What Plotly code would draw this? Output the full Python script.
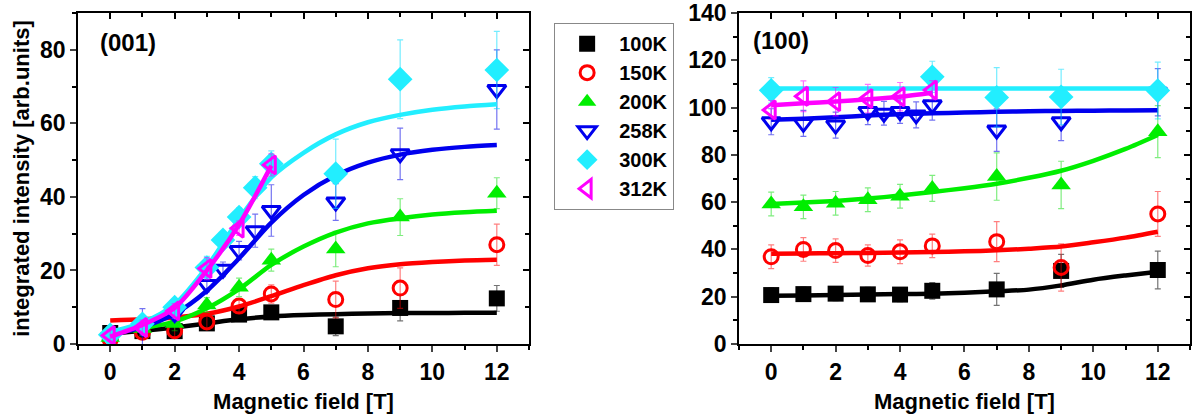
import plotly.graph_objects as go

# ---------------- data: panel (001) ----------------
labels = ["100K", "150K", "200K", "258K", "300K", "312K"]
colors = ["#000000", "#ff0000", "#00ee00", "#0000ee", "#22eeff", "#ff00ff"]
err_colors = ["rgba(0,0,0,0.55)", "rgba(255,0,0,0.5)", "rgba(0,220,0,0.5)",
              "rgba(0,0,230,0.55)", "rgba(0,220,255,0.55)", "rgba(255,0,255,0.55)"]
symbols = ["square", "circle-open", "triangle-up", "triangle-down-open", "diamond", "triangle-left-open"]
marker_sizes = [16, 14, 17, 16, 19, 16]

x_9 = [0, 1, 2, 3, 4, 5, 7, 9, 12]
x_11 = [0, 1, 2, 3, 3.5, 4, 4.5, 5, 7, 9, 12]
x_6 = [0, 1, 2, 3, 4, 5]
x_300_100 = [0, 5, 7, 9, 12]

a_100 = [3.0, 3.5, 3.5, 5.6, 8.0, 8.6, 4.8, 9.8, 12.4]
a_100_err = [1.5, 1.5, 1.5, 1.5, 1.5, 1.5, 2.5, 3.5, 3.5]
a_150 = [1.2, 3.2, 3.6, 6.0, 10.3, 13.6, 12.1, 15.2, 27.0]
a_150_err = [1.5, 2, 2, 2, 2, 2.5, 5, 5.5, 5.6]
a_200 = [1.8, 4.2, 5.6, 10.6, 15.4, 22.8, 25.8, 34.5, 41.0]
a_200_err = [1.5, 2, 2, 2, 2.5, 3, 4.8, 5, 4.2]
a_258 = [1.8, 4.6, 8.3, 16.2, 20.3, 25.4, 30.8, 36.3, 38.6, 51.7, 69.2]
a_258_err = [1.5, 5, 2, 2, 2, 2.5, 4.5, 7, 5, 7, 10.8]
a_300 = [2.5, 5.5, 10.0, 20.8, 28.3, 34.5, 42.5, 49.0, 46.3, 72.0, 74.5]
a_300_err = [1.5, 2, 2, 3, 2, 2.5, 3, 3.5, 9.4, 10.7, 10.5]
a_312 = [2.3, 4.5, 9.0, 20.5, 31.5, 48.7]
a_312_err = [1.5, 2, 2, 3, 2, 3]

# fitted curves (001)
fit_x = [0, 1, 2, 3, 4, 5, 6, 7, 8, 9, 10, 11, 12]
fit_x_312 = [0, 1, 2, 3, 4, 5]
af_100 = [2.8, 3.6, 4.5, 5.6, 6.7, 7.5, 7.9, 8.1, 8.3, 8.4, 8.4, 8.5, 8.5]
af_150 = [6.4, 6.7, 7.2, 8.2, 10.2, 13.0, 16.0, 18.7, 20.6, 21.7, 22.3, 22.7, 22.9]
af_200 = [3.0, 4.3, 6.1, 9.7, 14.9, 21.5, 26.5, 30.3, 32.8, 34.2, 35.2, 35.8, 36.2]
af_258 = [2.5, 4.6, 8.2, 14.5, 23.3, 33.0, 40.5, 45.8, 49.3, 51.5, 52.8, 53.6, 54.1]
af_300 = [3.3, 5.8, 10.8, 21.0, 34.0, 45.3, 52.0, 57.0, 60.3, 62.3, 63.7, 64.6, 65.2]
af_312 = [2.0, 5.2, 9.8, 20.0, 32.5, 48.5]

# ---------------- data: panel (100) ----------------
b_100 = [20.7, 21.1, 21.3, 21.0, 20.9, 22.5, 23.1, 30.9, 31.3]
b_100_err = [3, 3, 3, 3, 3, 3.5, 6.8, 7, 8]
b_150 = [36.9, 40.0, 39.5, 37.4, 39.0, 41.5, 43.3, 32.4, 55.0]
b_150_err = [5, 5, 5, 4.5, 5, 5, 8.5, 10, 9.5]
b_200 = [59.2, 58.0, 59.5, 61.0, 62.5, 65.8, 70.8, 67.3, 89.8]
b_200_err = [5, 5, 5, 5, 5, 5.5, 10, 10, 11]
b_258 = [94.0, 93.3, 92.6, 98.3, 97.6, 98.3, 96.9, 101.2, 90.5, 94.0, 106.5]
b_258_err = [5.5, 5.5, 5.5, 5.5, 5, 5, 5.5, 6.5, 9, 8, 10]
b_300 = [107.3, 113.0, 104.3, 104.5, 107.2]
b_300_err = [5.4, 6.6, 12.6, 11.7, 12]
b_312 = [99.0, 104.8, 102.5, 103.8, 104.6, 107.4]
b_312_err = [4, 6.5, 6, 6, 6, 4]

bf_100 = [20.4, 20.5, 20.7, 20.9, 21.1, 21.3, 21.7, 22.3, 23.0, 24.8, 27.2, 29.0, 30.6]
bf_150 = [38.2, 38.3, 38.4, 38.5, 38.7, 38.9, 39.2, 39.6, 40.3, 41.2, 43.0, 45.0, 47.5]
bf_200 = [59.2, 59.8, 60.5, 61.5, 62.8, 64.3, 65.9, 67.8, 70.3, 73.3, 77.5, 82.5, 88.4]
bf_258 = [94.8, 95.3, 95.9, 96.6, 97.2, 97.6, 97.9, 98.2, 98.4, 98.6, 98.7, 98.8, 98.9]
bf_300 = [108.1] * 13
bf_312 = [101.0, 101.8, 102.6, 103.5, 104.6, 106.3]

x_ticks = [0, 2, 4, 6, 8, 10, 12]

panel_a = [
    (x_9, a_100, a_100_err, fit_x, af_100),
    (x_9, a_150, a_150_err, fit_x, af_150),
    (x_9, a_200, a_200_err, fit_x, af_200),
    (x_11, a_258, a_258_err, fit_x, af_258),
    (x_11, a_300, a_300_err, fit_x, af_300),
    (x_6, a_312, a_312_err, fit_x_312, af_312),
]
panel_b = [
    (x_9, b_100, b_100_err, fit_x, bf_100),
    (x_9, b_150, b_150_err, fit_x, bf_150),
    (x_9, b_200, b_200_err, fit_x, bf_200),
    (x_11, b_258, b_258_err, fit_x, bf_258),
    (x_300_100, b_300, b_300_err, fit_x, bf_300),
    (x_6, b_312, b_312_err, fit_x_312, bf_312),
]

FONT = "Liberation Sans"
fig = go.Figure()

# invisible copies so the top / right tick axes exist
for xa, ya, fy in [("x3", "y3", af_100), ("x4", "y4", bf_100)]:
    fig.add_trace(go.Scatter(x=fit_x, y=fy, xaxis=xa, yaxis=ya, mode="markers",
                             marker=dict(opacity=0, size=1), showlegend=False,
                             hoverinfo="skip"))

for panel, (xa, ya, show) in [(panel_a, ("x", "y", True)), (panel_b, ("x2", "y2", False))]:
    for i, (px, py, pe, fx, fy) in enumerate(panel):
        open_sym = symbols[i].endswith("open")
        fig.add_trace(go.Scatter(
            x=px, y=py, mode="markers", name=labels[i], xaxis=xa, yaxis=ya,
            showlegend=show, legendgroup=labels[i],
            marker=dict(symbol=symbols[i], size=marker_sizes[i], color=colors[i],
                        line=dict(color=colors[i], width=3 if open_sym else 0)),
            error_y=dict(type="data", array=pe, visible=True, color=err_colors[i],
                         thickness=1.2, width=3),
        ))
        fig.add_trace(go.Scatter(
            x=fx, y=fy, mode="lines", xaxis=xa, yaxis=ya, showlegend=False,
            legendgroup=labels[i], hoverinfo="skip",
            line=dict(color=colors[i], width=4.5, shape="spline", smoothing=0.8),
        ))

tickfont = dict(family=FONT, size=23, color="black", weight="bold")
titlefont = dict(family=FONT, size=22, color="black", weight="bold")

def xax(domain, anchor):
    return dict(domain=domain, anchor=anchor, range=[-1, 13], tickvals=x_ticks,
                ticks="outside", ticklen=6, tickwidth=1.5, showline=True, mirror=True,
                linecolor="black", linewidth=1.5, showgrid=False, zeroline=False,
                tickfont=tickfont, ticklabelstandoff=1, automargin=False,
                minor=dict(dtick=1, tick0=0, ticks="outside", ticklen=4,
                           tickwidth=1.5, tickcolor="black", showgrid=False),
                title=dict(text="Magnetic field [T]", font=titlefont, standoff=9))

def yax(anchor, rng, title=None):
    d = dict(anchor=anchor, range=rng, dtick=20, tick0=0, ticks="outside",
             ticklen=6, tickwidth=1.5, showline=True, mirror=True, linecolor="black",
             linewidth=1.5, showgrid=False, zeroline=False, tickfont=tickfont,
             automargin=False,
             minor=dict(dtick=10, tick0=0, ticks="outside", ticklen=4,
                        tickwidth=1.5, tickcolor="black", showgrid=False))
    if title:
        d["title"] = dict(text=title, font=titlefont, standoff=4)
    return d

# independent top / right axes sharing the panel domains (ticks point inward)
def top_x(domain, anchor):
    return dict(domain=domain, anchor=anchor, side="top",
                range=[-1, 13], tickvals=x_ticks, ticks="inside", ticklen=6,
                tickwidth=1.5, tickcolor="black", showline=True, linecolor="black",
                linewidth=1.5, showticklabels=False, showgrid=False, zeroline=False,
                automargin=False,
                minor=dict(dtick=1, tick0=0, ticks="inside", ticklen=4,
                           tickwidth=1.5, tickcolor="black", showgrid=False))

def right_y(anchor, rng):
    return dict(anchor=anchor, side="right", domain=[0, 1], range=rng, dtick=20,
                tick0=0, ticks="inside", ticklen=6, tickwidth=1.5, tickcolor="black",
                showline=True, linecolor="black", linewidth=1.5, showticklabels=False,
                showgrid=False, zeroline=False, automargin=False,
                minor=dict(dtick=10, tick0=0, ticks="inside", ticklen=4,
                           tickwidth=1.5, tickcolor="black", showgrid=False))

dom1 = [0, 0.4056]
dom2 = [0.5944, 1]

fig.update_layout(
    width=1192, height=418,
    margin=dict(l=78, r=2, t=13, b=74),
    paper_bgcolor="white", plot_bgcolor="rgba(0,0,0,0)",
    font=dict(family=FONT, color="black"),
    xaxis=xax(dom1, "y"),
    yaxis=yax("x", [0, 90], "integrated intensity [arb.units]"),
    xaxis2=xax(dom2, "y2"),
    yaxis2=yax("x2", [0, 140]),
    xaxis3=top_x(dom1, "y3"),
    yaxis3=right_y("x3", [0, 90]),
    xaxis4=top_x(dom2, "y4"),
    yaxis4=right_y("x4", [0, 140]),
    legend=dict(x=0.428, y=0.97, xanchor="left", yanchor="top",
                bordercolor="#888888", borderwidth=1.2, bgcolor="white",
                font=dict(family=FONT, size=20, color="black", weight="bold"),
                itemsizing="trace", itemwidth=54, tracegroupgap=0),
    annotations=[
        dict(text="(001)", xref="x domain", yref="y domain", x=0.045, y=0.91,
             xanchor="left", yanchor="middle", showarrow=False,
             font=dict(family=FONT, size=24, color="black", weight="bold")),
        dict(text="(100)", xref="x2 domain", yref="y2 domain", x=0.027, y=0.918,
             xanchor="left", yanchor="middle", showarrow=False,
             font=dict(family=FONT, size=24, color="black", weight="bold")),
    ],
    showlegend=True,
)

fig.write_html("out.html", config={"displayModeBar": False},
               post_script="document.body.style.margin='0';document.body.style.padding='0';")
